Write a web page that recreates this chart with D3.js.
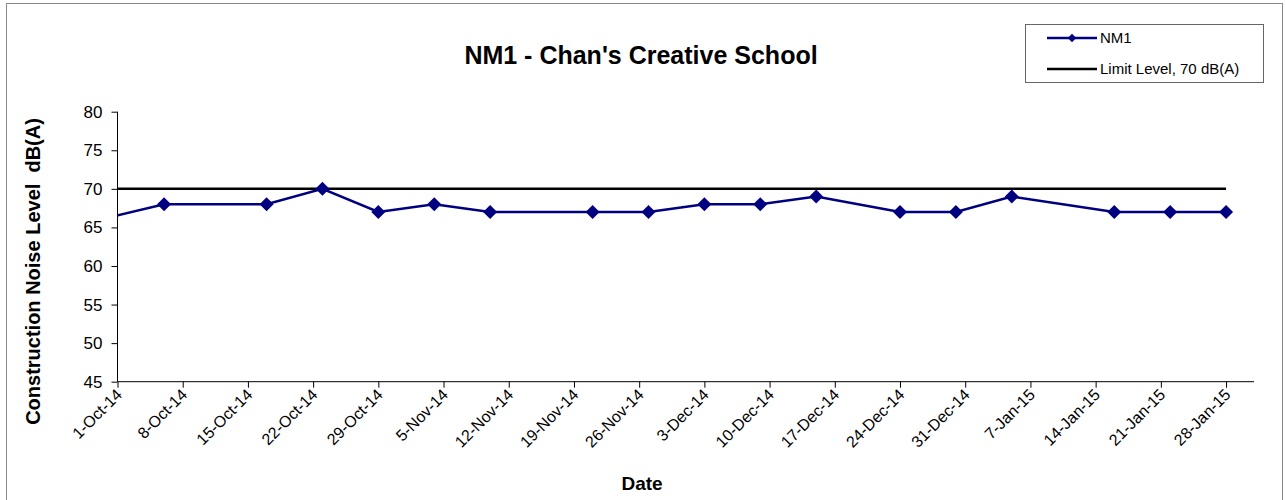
<!DOCTYPE html>
<html>
<head>
<meta charset="utf-8">
<script src="https://cdn.jsdelivr.net/npm/d3@7"></script>
<style>
  body { margin: 0; background: #fff; }
  svg { display: block; font-family: "Liberation Sans", Arial, sans-serif; }
</style>
</head>
<body>
<svg id="chart" width="1286" height="500"></svg>
<script>
// ---- data ----
const nm1Dates = ["2014-09-29","2014-10-06","2014-10-17","2014-10-23","2014-10-29","2014-11-04","2014-11-10",
  "2014-11-21","2014-11-27","2014-12-03","2014-12-09","2014-12-15","2014-12-24","2014-12-30",
  "2015-01-05","2015-01-16","2015-01-22","2015-01-28"];
const nm1Values = [66, 68, 68, 70, 67, 68, 67, 67, 67, 68, 68, 69, 67, 67, 69, 67, 67, 67];
const limitDates = ["2014-10-01", "2015-01-28"];
const limitValues = [70, 70];
const yTicks = [45, 50, 55, 60, 65, 70, 75, 80];
const xTickDates = ["2014-10-01","2014-10-08","2014-10-15","2014-10-22","2014-10-29","2014-11-05","2014-11-12",
  "2014-11-19","2014-11-26","2014-12-03","2014-12-10","2014-12-17","2014-12-24","2014-12-31",
  "2015-01-07","2015-01-14","2015-01-21","2015-01-28"];
const xDomain = ["2014-10-01", "2015-01-31"];
const titleText = "NM1 - Chan's Creative School";
const yLabel = "Construction Noise Level  dB(A)";
const xLabel = "Date";
const legendLabels = ["NM1", "Limit Level, 70 dB(A)"];

// ---- layout ----
const parse = d3.utcParse("%Y-%m-%d");
const fmt = d3.utcFormat("%-d-%b-%y");
const svg = d3.select("#chart");
const L = 117.5, R = 1254, T = 111.7, B = 381.7;
const FONT = "'Liberation Sans', Arial, sans-serif";

svg.append("rect").attr("x", 6.5).attr("y", 3.5).attr("width", 1276).attr("height", 520)
  .attr("fill", "#fff").attr("stroke", "#888").attr("stroke-width", 1);

const x = d3.scaleUtc().domain(xDomain.map(parse)).range([L, R]);
const y = d3.scaleLinear().domain([45, 80]).range([B, T]);

svg.append("defs").append("clipPath").attr("id", "plotclip")
  .append("rect").attr("x", L).attr("y", T - 10).attr("width", R - L).attr("height", B - T + 20);

// axes
const yAxis = d3.axisLeft(y).tickValues(yTicks).tickSize(6).tickPadding(9).tickFormat(d3.format("d"));
const gy = svg.append("g").attr("transform", `translate(${L},0)`).call(yAxis);
gy.select(".domain").attr("stroke", "#000").attr("d", `M0,${B}V${T}`);
gy.selectAll(".tick line").attr("stroke", "#000");
gy.selectAll(".tick text").attr("font-size", 17).attr("fill", "#000").attr("font-family", FONT);

const xAxis = d3.axisBottom(x).tickValues(xTickDates.map(parse)).tickSize(6).tickFormat(fmt);
const gx = svg.append("g").attr("transform", `translate(0,${B})`).call(xAxis);
gx.select(".domain").attr("stroke", "#000").attr("d", `M${L},0H${R}`);
gx.selectAll(".tick line").attr("stroke", "#000");
gx.selectAll(".tick text").attr("font-size", 16).attr("fill", "#000").attr("font-family", FONT)
  .attr("text-anchor", "end").attr("dy", null).attr("y", 0)
  .attr("transform", "translate(5,14) rotate(-45)");

// limit line
const limitData = limitDates.map((d, i) => ({ date: parse(d), value: limitValues[i] }));
svg.append("path").datum(limitData)
  .attr("fill", "none").attr("stroke", "#000").attr("stroke-width", 2.5)
  .attr("d", d3.line().x(d => x(d.date)).y(d => y(d.value)));

// NM1 series
const nm1Data = nm1Dates.map((d, i) => ({ date: parse(d), value: nm1Values[i] }));
const g = svg.append("g").attr("clip-path", "url(#plotclip)");
g.append("path").datum(nm1Data)
  .attr("fill", "none").attr("stroke", "#000080").attr("stroke-width", 2.5)
  .attr("d", d3.line().x(d => x(d.date)).y(d => y(d.value)));
g.selectAll(".pt").data(nm1Data.filter(d => d.date >= x.domain()[0])).enter().append("path")
  .attr("d", d3.symbol().type(d3.symbolSquare).size(98)())
  .attr("transform", d => `translate(${x(d.date)},${y(d.value)}) rotate(45)`)
  .attr("fill", "#000080");

// title & labels
svg.append("text").attr("x", 641).attr("y", 64).attr("text-anchor", "middle")
  .attr("font-size", 25).attr("font-weight", "bold").text(titleText);
svg.append("text").attr("transform", `translate(39.5,271.5) rotate(-90)`).attr("text-anchor", "middle")
  .attr("font-size", 20).attr("font-weight", "bold").style("white-space", "pre").text(yLabel);
svg.append("text").attr("x", 642).attr("y", 490).attr("text-anchor", "middle")
  .attr("font-size", 19).attr("font-weight", "bold").text(xLabel);

// legend
const lg = svg.append("g");
lg.append("rect").attr("x", 1025.5).attr("y", 24.5).attr("width", 238).attr("height", 58)
  .attr("fill", "#fff").attr("stroke", "#666").attr("stroke-width", 1);
lg.append("line").attr("x1", 1047).attr("x2", 1097).attr("y1", 38).attr("y2", 38)
  .attr("stroke", "#000080").attr("stroke-width", 2.5);
lg.append("path").attr("d", d3.symbol().type(d3.symbolSquare).size(36)())
  .attr("transform", "translate(1072,38) rotate(45)").attr("fill", "#000080");
lg.append("line").attr("x1", 1047).attr("x2", 1097).attr("y1", 69).attr("y2", 69)
  .attr("stroke", "#000").attr("stroke-width", 2.5);
lg.append("text").attr("x", 1100).attr("y", 43).attr("font-size", 15).text(legendLabels[0]);
lg.append("text").attr("x", 1100).attr("y", 74).attr("font-size", 15).text(legendLabels[1]);
</script>
</body>
</html>
